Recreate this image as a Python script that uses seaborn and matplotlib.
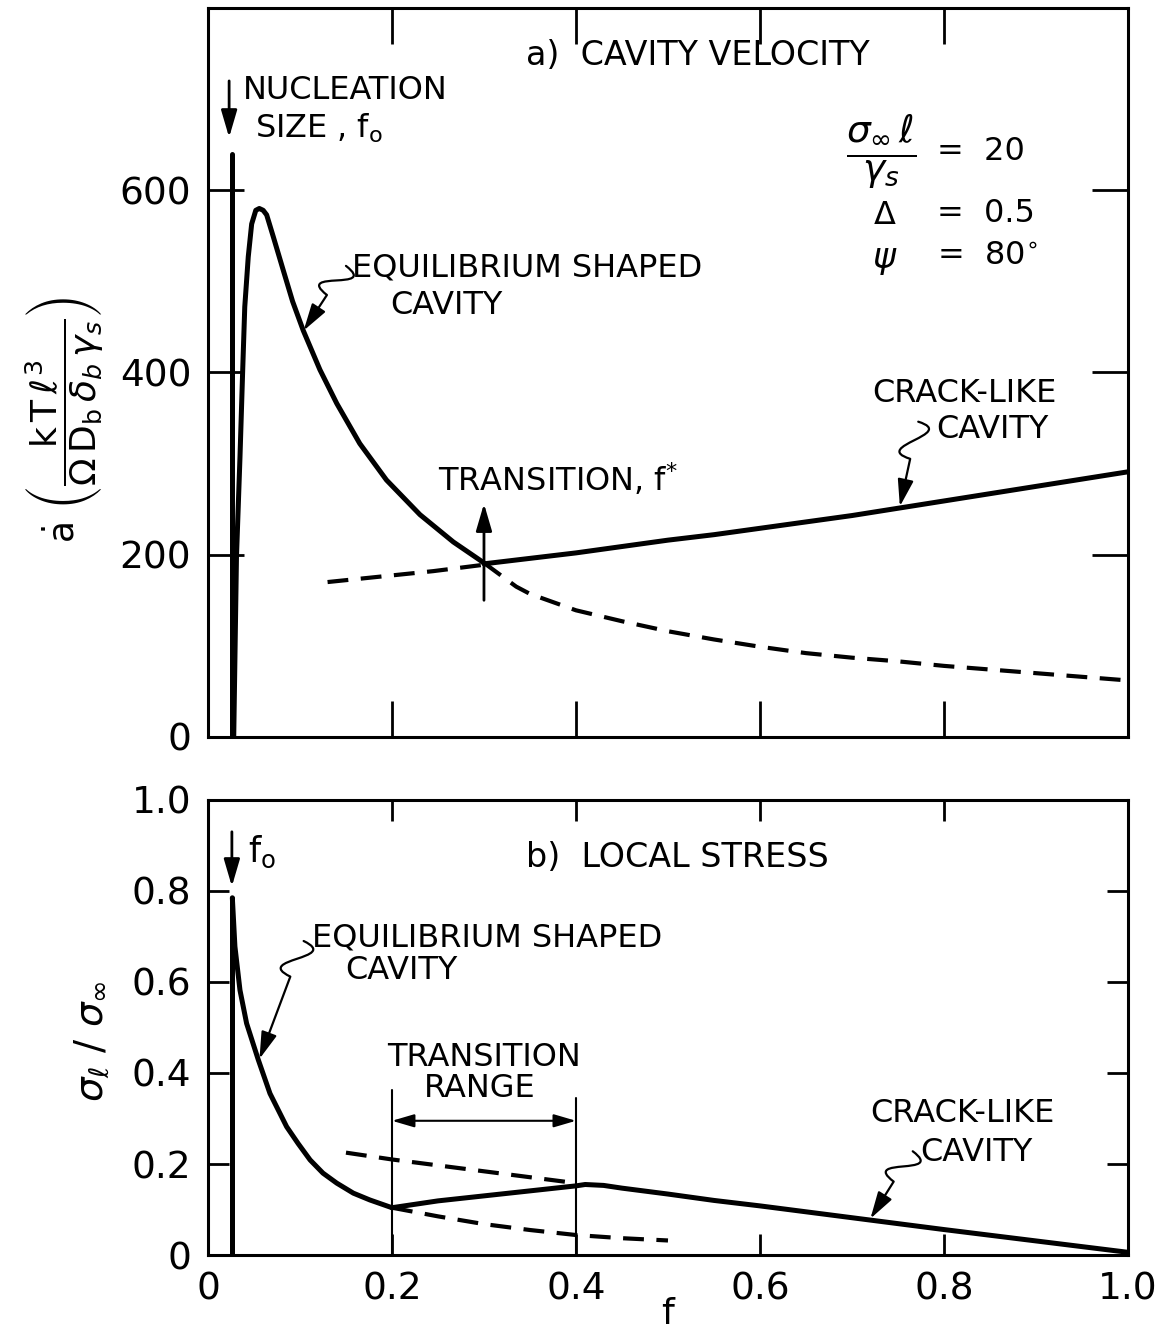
import numpy as np
import matplotlib
matplotlib.use("Agg")
import matplotlib.pyplot as plt
import seaborn as sns
from matplotlib.patches import FancyArrowPatch
from matplotlib.path import Path

# ---------------- (a) cavity velocity ----------------
f0 = 0.026                      # nucleation size
f_nuc = [f0, f0]
adot_nuc = [0, 640]

# equilibrium-shaped cavity (solid up to the transition f*)
f_eq_a = [0.028, 0.031, 0.0348, 0.0377, 0.040, 0.0438, 0.0475, 0.052,
          0.0558, 0.060, 0.0638, 0.071, 0.0819, 0.092, 0.1036, 0.1217,
          0.140, 0.165, 0.194, 0.2304, 0.2667, 0.2957, 0.300]
adot_eq_a = [0, 198, 307, 401, 472, 527, 563, 578,
             580, 578, 573, 549, 512, 478, 446, 403,
             366, 322, 282, 244, 214, 194, 191]

# equilibrium-shaped cavity beyond f* (dashed)
f_eq_a_ext = [0.300, 0.335, 0.350, 0.400, 0.450, 0.500, 0.550, 0.600,
              0.650, 0.700, 0.750, 0.800, 0.850, 0.900, 0.950, 1.000]
adot_eq_a_ext = [191, 165, 157, 139, 127, 116, 107, 99,
                 92, 87, 83, 78, 74, 70, 66, 62]

# crack-like cavity below f* (dashed) and above f* (solid)
f_crack_a_ext = [0.130, 0.245, 0.300]
adot_crack_a_ext = [170, 182, 189]
f_crack_a = [0.300, 0.350, 0.400, 0.450, 0.500, 0.550, 0.600, 0.650,
             0.700, 0.750, 0.800, 0.850, 0.900, 0.950, 1.000]
adot_crack_a = [190, 196, 202, 209, 216, 222, 229, 236,
                243, 251, 259, 267, 275, 283, 291]
f_star = 0.30

# ---------------- (b) local stress ----------------
stress_nuc = [0, 0.785]
f_eq_b = [0.0265, 0.0293, 0.0348, 0.042, 0.0547, 0.0674, 0.0855, 0.098,
          0.111, 0.125, 0.140, 0.158, 0.176, 0.200]
stress_eq_b = [0.785, 0.678, 0.582, 0.509, 0.429, 0.355, 0.282, 0.245,
               0.209, 0.180, 0.158, 0.136, 0.121, 0.104]
f_eq_b_ext = [0.20, 0.25, 0.30, 0.35, 0.40, 0.45, 0.50]
stress_eq_b_ext = [0.104, 0.085, 0.068, 0.055, 0.044, 0.037, 0.032]
f_crack_b = [0.20, 0.25, 0.30, 0.35, 0.40, 0.41, 0.43, 0.45, 0.50, 0.55,
             0.60, 0.70, 0.80, 0.90, 1.00]
stress_crack_b = [0.104, 0.119, 0.130, 0.141, 0.152, 0.155, 0.153, 0.147,
                  0.134, 0.120, 0.108, 0.082, 0.056, 0.031, 0.006]
f_crack_b_ext = [0.15, 0.20, 0.25, 0.30, 0.35, 0.40]
stress_crack_b_ext = [0.225, 0.210, 0.197, 0.184, 0.171, 0.158]
transition_range = [0.2, 0.4]

# ---------------- axes ticks ----------------
f_ticks = [0, 0.2, 0.4, 0.6, 0.8, 1.0]
f_tick_labels = ["0", "0.2", "0.4", "0.6", "0.8", "1.0"]
adot_ticks = [0, 200, 400, 600]
adot_tick_labels = ["0", "200", "400", "600"]
stress_ticks = [0, 0.2, 0.4, 0.6, 0.8, 1.0]
stress_tick_labels = ["0", "0.2", "0.4", "0.6", "0.8", "1.0"]

sns.set_theme(style="white")
plt.rcParams["font.family"] = ["DejaVu Sans"]
plt.rcParams["mathtext.fontset"] = "dejavusans"
for key in ("text.color", "axes.labelcolor", "xtick.color", "ytick.color"):
    plt.rcParams[key] = "black"

fig = plt.figure(figsize=(11.67, 13.37), dpi=100)
ax_a = fig.add_axes([0.1782, 0.4488, 0.7884, 0.5452])
ax_b = fig.add_axes([0.1782, 0.0613, 0.7884, 0.3404])

LABEL_FS = 23
TICK_FS = 27


def curve(ax, x, y, lw=3.6, dashed=False):
    sns.lineplot(x=x, y=y, ax=ax, color="black", linewidth=lw,
                 estimator=None, sort=False, legend=False)
    line = ax.lines[-1]
    if dashed:
        line.set_dashes([5, 3])
    line.set_solid_capstyle("round")
    line.set_solid_joinstyle("round")
    return line


def arrow(ax, start, end, style="-|>", lw=2.0, scale=22):
    p = FancyArrowPatch(start, end,
                        arrowstyle=f"{style},head_length=0.75,head_width=0.22",
                        mutation_scale=scale, lw=lw, color="black",
                        shrinkA=0, shrinkB=0, transform=ax.transData)
    ax.add_patch(p)


def squiggle(ax, start, tip, k=42, s_len=38):
    """Leader line with a small S-bend near the label, ending in an arrow."""
    p0 = ax.transData.transform(start)
    p1 = ax.transData.transform(tip)
    d = p1 - p0
    L = np.hypot(*d)
    u = d / L
    n = np.array([-u[1], u[0]])
    s = min(0.45 * L, s_len)
    b = p0 + s * u
    c1 = p0 + 0.1 * s * u + k * n
    c2 = p0 + 0.9 * s * u - k * n
    verts = ax.transData.inverted().transform(np.array([p0, c1, c2, b, p1]))
    codes = [Path.MOVETO, Path.CURVE4, Path.CURVE4, Path.CURVE4, Path.LINETO]
    p = FancyArrowPatch(path=Path(verts, codes),
                        arrowstyle="-|>,head_length=0.75,head_width=0.22",
                        mutation_scale=22, lw=1.6, color="black",
                        transform=ax.transData)
    ax.add_patch(p)


for ax, tlen in ((ax_a, 26), (ax_b, 15)):
    ax.set_xlim(0, 1.0)
    for sp in ax.spines.values():
        sp.set_visible(True)
        sp.set_linewidth(2.2)
        sp.set_color("black")
    ax.tick_params(direction="in", bottom=True, left=True, top=True, right=True,
                   length=tlen, width=2.0, colors="black", labelsize=TICK_FS, pad=12)
    ax.set_xticks(f_ticks)
    ax.grid(False)

# ---------------- panel (a) ----------------
ax_a.set_ylim(0, 800)
ax_a.set_yticks(adot_ticks, adot_tick_labels)
ax_a.set_xticklabels([])

curve(ax_a, f_nuc, adot_nuc, lw=3.6)
curve(ax_a, f_eq_a, adot_eq_a, lw=3.6)
curve(ax_a, f_eq_a_ext, adot_eq_a_ext, lw=3.0, dashed=True)
curve(ax_a, f_crack_a_ext, adot_crack_a_ext, lw=3.0, dashed=True)
curve(ax_a, f_crack_a, adot_crack_a, lw=3.6)

ax_a.text(0.532, 748, "a)  CAVITY VELOCITY", fontsize=24, ha="center", va="center")
arrow(ax_a, (f0 - 0.003, 720), (f0 - 0.003, 658))
ax_a.text(0.038, 710, "NUCLEATION", fontsize=LABEL_FS, ha="left", va="center")
ax_a.text(0.051, 668, r"SIZE , f$_{\mathrm{o}}$", fontsize=LABEL_FS, ha="left", va="center")

ax_a.text(0.732, 642, r"$\dfrac{\sigma_{\infty}\,\ell}{\gamma_s}$", fontsize=27,
          ha="center", va="center")
ax_a.text(0.792, 642, "=  20", fontsize=LABEL_FS, ha="left", va="center")
ax_a.text(0.736, 572, r"$\Delta$", fontsize=LABEL_FS, ha="center", va="center")
ax_a.text(0.792, 575, "=  0.5", fontsize=LABEL_FS, ha="left", va="center")
ax_a.text(0.736, 523, r"$\psi$", fontsize=LABEL_FS + 2, ha="center", va="center")
ax_a.text(0.792, 527, r"=  80$^{\circ}$", fontsize=LABEL_FS, ha="left", va="center")

ax_a.text(0.157, 515, "EQUILIBRIUM SHAPED", fontsize=LABEL_FS, ha="left", va="center")
ax_a.text(0.198, 474, "CAVITY", fontsize=LABEL_FS, ha="left", va="center")
squiggle(ax_a, (0.150, 517), (0.104, 446))

ax_a.text(0.250, 282, r"TRANSITION, f$^{*}$", fontsize=LABEL_FS, ha="left", va="center")
arrow(ax_a, (f_star, 150), (f_star, 256))

ax_a.text(0.722, 377, "CRACK-LIKE", fontsize=LABEL_FS, ha="left", va="center")
ax_a.text(0.792, 337, "CAVITY", fontsize=LABEL_FS, ha="left", va="center")
squiggle(ax_a, (0.772, 346), (0.752, 253))

ax_a.set_ylabel(r"$\dot{\mathrm{a}}\ \left(\dfrac{\mathrm{k\,T}\,\ell^{3}}"
                r"{\Omega\,\mathrm{D_b}\,\delta_b\,\gamma_s}\right)$",
                fontsize=26)
ax_a.yaxis.set_label_coords(-0.112, 0.435)

# ---------------- panel (b) ----------------
ax_b.set_ylim(0, 1.0)
ax_b.set_yticks(stress_ticks, stress_tick_labels)
ax_b.set_xticks(f_ticks, f_tick_labels)

curve(ax_b, f_nuc, stress_nuc, lw=3.6)
curve(ax_b, f_eq_b, stress_eq_b, lw=3.6)
curve(ax_b, f_eq_b_ext, stress_eq_b_ext, lw=3.0, dashed=True)
curve(ax_b, f_crack_b, stress_crack_b, lw=3.6)
curve(ax_b, f_crack_b_ext, stress_crack_b_ext, lw=3.0, dashed=True)

ax_b.text(0.51, 0.873, "b)  LOCAL STRESS", fontsize=24, ha="center", va="center")
arrow(ax_b, (f0, 0.93), (f0, 0.81))
ax_b.text(0.043, 0.885, r"f$_{\mathrm{o}}$", fontsize=LABEL_FS + 2, ha="left", va="center")

ax_b.text(0.113, 0.697, "EQUILIBRIUM SHAPED", fontsize=LABEL_FS, ha="left", va="center")
ax_b.text(0.149, 0.626, "CAVITY", fontsize=LABEL_FS, ha="left", va="center")
squiggle(ax_b, (0.104, 0.690), (0.056, 0.431))

for fx, top in zip(transition_range, (0.363, 0.345)):
    ax_b.plot([fx, fx], [0, top], color="black", lw=1.5)
arrow(ax_b, (transition_range[0], 0.295), (transition_range[1], 0.295),
      style="<|-|>", lw=1.5, scale=18)
ax_b.text(0.30, 0.435, "TRANSITION", fontsize=LABEL_FS, ha="center", va="center")
ax_b.text(0.295, 0.367, "RANGE", fontsize=LABEL_FS, ha="center", va="center")

ax_b.text(0.720, 0.312, "CRACK-LIKE", fontsize=LABEL_FS, ha="left", va="center")
ax_b.text(0.774, 0.226, "CAVITY", fontsize=LABEL_FS, ha="left", va="center")
squiggle(ax_b, (0.766, 0.228), (0.720, 0.080))

ax_b.set_ylabel(r"$\sigma_{\ell}\ /\ \sigma_{\infty}$", fontsize=28)
ax_b.yaxis.set_label_coords(-0.105, 0.47)
ax_b.set_xlabel("f", fontsize=26)
ax_b.xaxis.set_label_coords(0.5, -0.093)

fig.savefig("out.png", dpi=100, facecolor="white")
